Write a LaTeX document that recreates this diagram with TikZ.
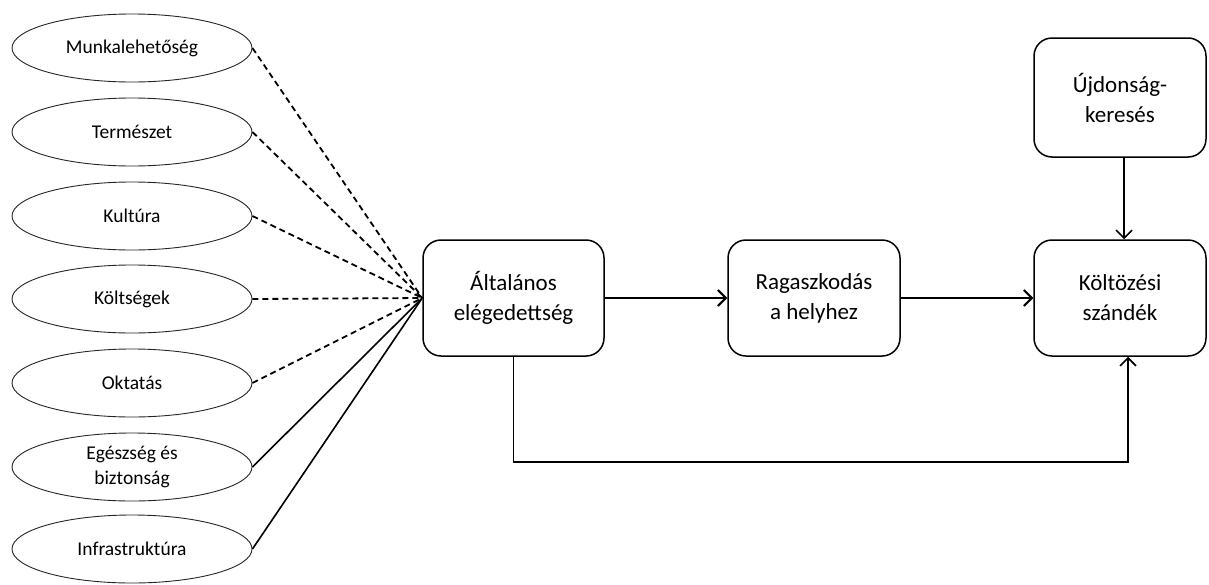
\documentclass[tikz,border=0pt]{standalone}
\usepackage{fontspec}
\setmainfont{Carlito}
\usetikzlibrary{arrows.meta,shapes.geometric}
\tikzset{
  factor/.style={draw=black!85, line width=0.9pt, ellipse, minimum width=240pt, minimum height=68pt, inner sep=0pt, align=center, font=\fontsize{19.5}{25}\selectfont},
  box/.style={draw, line width=1.5pt, rounded corners=18pt, minimum width=176pt, minimum height=116pt, inner sep=0pt, align=center, font=\fontsize{23}{30}\selectfont},
  dlink/.style={line width=1.8pt, dash pattern=on 6pt off 4pt},
  slink/.style={line width=1.6pt},
  arr/.style={line width=2pt, -{Straight Barb[length=8pt,width=16pt,line width=2pt]}},
  arrthin/.style={line width=1.6pt, -{Straight Barb[length=8pt,width=16pt,line width=1.6pt]}}
}
\begin{document}
\begin{tikzpicture}[x=1pt,y=-1pt]
\useasboundingbox (0,0) rectangle (1209,584);
\node[factor] (f1) at (132,48) {Munkalehetőség};
\node[factor] (f2) at (132,132) {Természet};
\node[factor] (f3) at (132,216) {Kultúra};
\node[factor] (f4) at (132,299) {Költségek};
\node[factor] (f5) at (132,383) {Oktatás};
\node[factor] (f6) at (132,467) {Egészség és\\biztonság};
\node[factor] (f7) at (132,549) {Infrastruktúra};
\node[box, minimum width=181pt] (A) at (513.5,298) {Általános\\elégedettség};
\node[box, minimum width=172pt] (R) at (814,298) {Ragaszkodás\\a helyhez};
\node[box, minimum width=172pt] (K) at (1120,298) {Költözési\\szándék};
\node[box, minimum width=172pt, minimum height=119pt] (U) at (1120,97.5) {Újdonság-\\keresés};
\coordinate (c1) at (A.south |- 0,462);
\coordinate (c2) at (1128,462);
\foreach \i in {1,...,5} \draw[dlink] (f\i.east) -- (A.west);
\foreach \i in {6,7} \draw[slink] (f\i.east) -- (A.west);
\draw[arr] (A.east) -- (R.west);
\draw[arr] (R.east) -- (K.west);
\draw[arrthin] (U.south -| 1124,0) -- (K.north -| 1124,0);
\draw[arrthin] (A.south) -- (c1) -- (c2) -- (c2 |- K.south);
\end{tikzpicture}
\end{document}
